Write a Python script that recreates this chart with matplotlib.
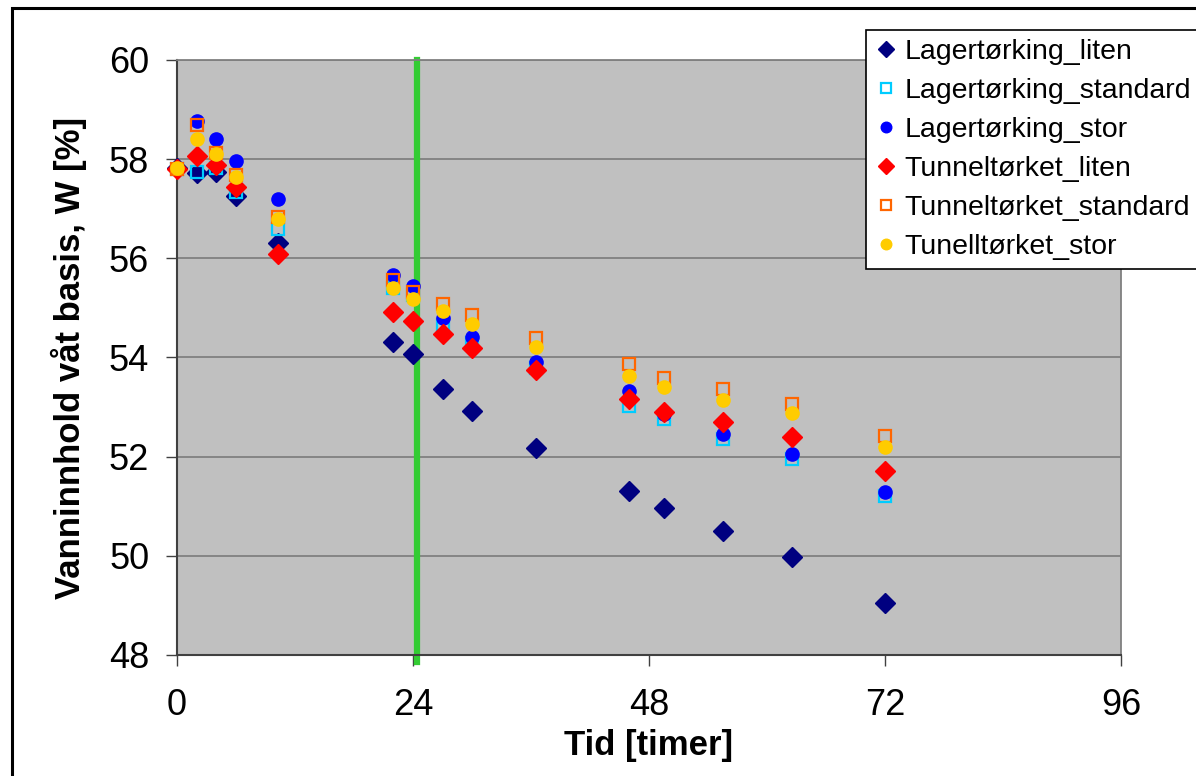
import numpy as np
from matplotlib import pyplot as plt
from matplotlib.patches import Rectangle

plt.rcParams['font.family'] = ['Liberation Sans', 'DejaVu Sans']

# measurement times (hours)
tid = [0, 2, 4, 6, 10.3, 22, 24, 27, 30, 36.5, 46, 49.5, 55.5, 62.5, 72]

lager_liten = [57.82, 57.72, 57.74, 57.26, 56.31, 54.31, 54.07, 53.36, 52.92,
               52.17, 51.31, 50.96, 50.50, 49.97, 49.05]
lager_standard = [57.80, 57.74, 57.82, 57.34, 56.60, 55.40, 55.25, 54.66, 54.30,
                  53.78, 53.02, 52.76, 52.36, 51.95, 51.21]
lager_stor = [57.80, 58.76, 58.40, 57.96, 57.20, 55.66, 55.44, 54.80, 54.41,
              53.91, 53.32, 52.86, 52.46, 52.05, 51.29]
tunnel_liten = [57.80, 58.06, 57.88, 57.44, 56.09, 54.92, 54.74, 54.47, 54.19,
                53.75, 53.16, 52.90, 52.70, 52.40, 51.71]
tunnel_standard = [57.80, 58.69, 58.12, 57.68, 56.83, 55.56, 55.32, 55.08, 54.86,
                   54.40, 53.87, 53.59, 53.36, 53.06, 52.42]
tunnel_stor = [57.82, 58.41, 58.10, 57.64, 56.79, 55.40, 55.18, 54.94, 54.68,
               54.21, 53.63, 53.40, 53.14, 52.88, 52.20]

gronn_linje = 24.4

fig = plt.figure(figsize=(11.96, 7.76), dpi=100)
ax = fig.add_axes([0.148, 0.156, 0.7893, 0.7667])
ax.set_facecolor('#C0C0C0')

ax.axvline(gronn_linje, ymin=-0.012, ymax=1, color='#33CC33', lw=4.5,
           clip_on=False, zorder=2)

serier = [
    (lager_liten, 'D', 10, '#000080', '#000080', 'Lagertørking_liten'),
    (lager_standard, 's', 8.5, 'none', '#00CCFF', 'Lagertørking_standard'),
    (lager_stor, 'o', 9.5, '#0000FF', '#0000FF', 'Lagertørking_stor'),
    (tunnel_liten, 'D', 10, '#FF0000', '#FF0000', 'Tunneltørket_liten'),
    (tunnel_standard, 's', 8.5, 'none', '#FF6600', 'Tunneltørket_standard'),
    (tunnel_stor, 'o', 9.5, '#FFCC00', '#FFCC00', 'Tunelltørket_stor'),
]
for verdier, mk, ms, fc, ec, navn in serier:
    ax.plot(tid, verdier, mk, ms=ms, mfc=fc, mec=ec,
            mew=1.6 if fc == 'none' else 1, label=navn, zorder=3,
            clip_on=False)

ax.set_xlim(0, 96)
ax.set_ylim(48, 60)
ax.set_xticks([0, 24, 48, 72, 96])
ax.set_yticks([48, 50, 52, 54, 56, 58, 60])
ax.yaxis.grid(True, color='#808080', lw=1.3)
ax.set_axisbelow(True)
ax.tick_params(direction='out', length=8, width=1, labelsize=26,
               color='#404040')
ax.tick_params(axis='x', pad=16)
ax.tick_params(axis='y', pad=12)

for side in ['top', 'right']:
    ax.spines[side].set_color('#808080')
    ax.spines[side].set_linewidth(1.3)
for side in ['left', 'bottom']:
    ax.spines[side].set_color('#404040')
    ax.spines[side].set_linewidth(1.5)

ax.set_xlabel('Tid [timer]', fontsize=25, fontweight='bold', labelpad=4)
ax.set_ylabel('Vanninnhold våt basis, W [%]', fontsize=25, fontweight='bold',
              labelpad=16)

leg = ax.legend(loc='upper left', bbox_to_anchor=(0.724, 0.9613),
                bbox_transform=fig.transFigure, fontsize=20.5, frameon=True,
                fancybox=False, edgecolor='black', framealpha=1,
                handlelength=0.8, handletextpad=0.25, labelspacing=0.46,
                borderpad=0.3, borderaxespad=0, markerscale=0.8)
leg.get_frame().set_linewidth(1.2)
leg.set_zorder(5)

fig.patches.append(Rectangle((0.010, -0.1), 1.2, 1.0897, transform=fig.transFigure,
                             fill=False, edgecolor='black', lw=2.2))

plt.savefig('out.png', dpi=100)
